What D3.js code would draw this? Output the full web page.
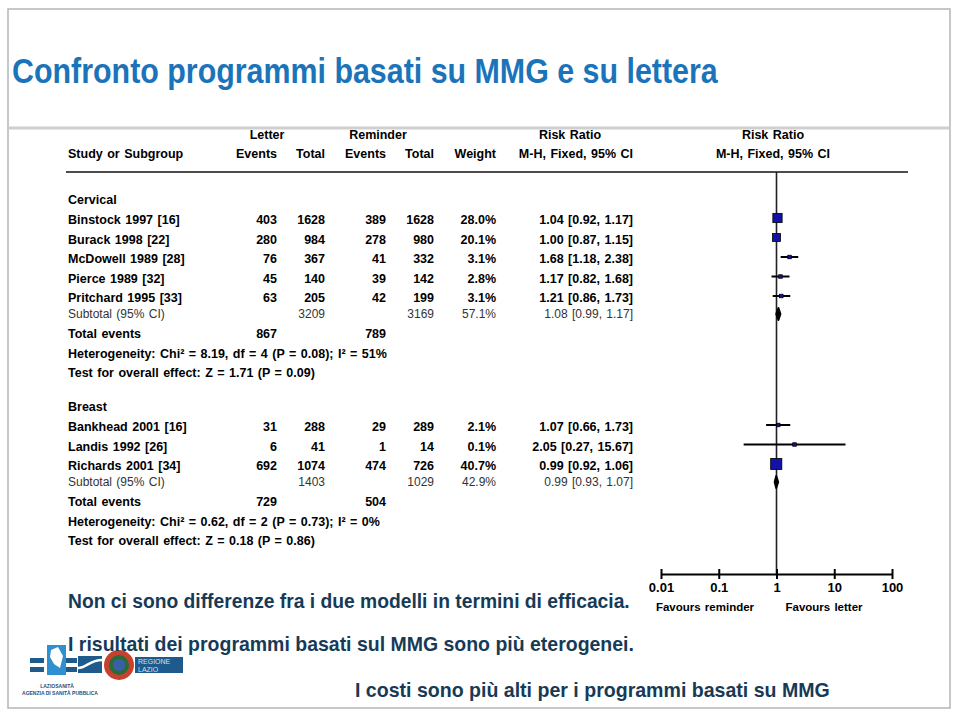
<!DOCTYPE html>
<html>
<head>
<meta charset="utf-8">
<script src="https://cdn.jsdelivr.net/npm/d3@7"></script>
<style>
  body { margin: 0; background: #fff; }
  text { font-family: "Liberation Sans", Arial, sans-serif; }
</style>
</head>
<body>
<div id="chart"></div>
<script>
// data
const groupNames = ["Cervical", "Breast"];
const studyNames = ["Binstock 1997 [16]", "Burack 1998 [22]", "McDowell 1989 [28]", "Pierce 1989 [32]", "Pritchard 1995 [33]",
                    "Bankhead 2001 [16]", "Landis 1992 [26]", "Richards 2001 [34]"];
const studyGroup = [0, 0, 0, 0, 0, 1, 1, 1];
const letterEvents = [403, 280, 76, 45, 63, 31, 6, 692];
const letterTotal = [1628, 984, 367, 140, 205, 288, 41, 1074];
const reminderEvents = [389, 278, 41, 39, 42, 29, 1, 474];
const reminderTotal = [1628, 980, 332, 142, 199, 289, 14, 726];
const weights = [28.0, 20.1, 3.1, 2.8, 3.1, 2.1, 0.1, 40.7];
const rr = [1.04, 1.00, 1.68, 1.17, 1.21, 1.07, 2.05, 0.99];
const rrLow = [0.92, 0.87, 1.18, 0.82, 0.86, 0.66, 0.27, 0.92];
const rrHigh = [1.17, 1.15, 2.38, 1.68, 1.73, 1.73, 15.67, 1.06];

const subLetterTotal = [3209, 1403];
const subReminderTotal = [3169, 1029];
const subWeight = [57.1, 42.9];
const subRR = [1.08, 0.99];
const subLow = [0.99, 0.93];
const subHigh = [1.17, 1.07];
const totalLetterEvents = [867, 729];
const totalReminderEvents = [789, 504];
const heterogeneity = ["Heterogeneity: Chi² = 8.19, df = 4 (P = 0.08); I² = 51%",
                       "Heterogeneity: Chi² = 0.62, df = 2 (P = 0.73); I² = 0%"];
const overallEffect = ["Test for overall effect: Z = 1.71 (P = 0.09)",
                       "Test for overall effect: Z = 0.18 (P = 0.86)"];

const axisTicks = [0.01, 0.1, 1, 10, 100];
const favours = ["Favours reminder", "Favours letter"];

const title = "Confronto programmi basati su MMG e su lettera";
const notes = ["Non ci sono differenze fra i due modelli in termini di efficacia.",
               "I risultati dei programmi basati sul MMG sono più eterogenei.",
               "I costi sono più alti per i programmi basati su MMG"];

const W = 960, H = 720;
const svg = d3.select("#chart").append("svg").attr("width", W).attr("height", H);

// condensed text: draw at full size, then squeeze horizontally to the wanted width
function squeezed(parent, xx, yy, s, width, size, color) {
  const t = parent.append("g").append("text").text(s)
    .style("font-size", size + "px").style("font-weight", "bold").attr("fill", color);
  const k = width / t.node().getComputedTextLength();
  t.node().parentNode.setAttribute("transform", `translate(${xx},${yy}) scale(${k},1)`);
  return t;
}

// slide frame
svg.append("rect").attr("x", 8).attr("y", 9).attr("width", 942).attr("height", 699)
  .attr("fill", "#fff").attr("stroke", "#b5b5b5").attr("stroke-width", 1.5);
svg.append("line").attr("x1", 9).attr("x2", 949).attr("y1", 128).attr("y2", 128)
  .attr("stroke", "#cfcfcf").attr("stroke-width", 3);

squeezed(svg, 12, 83, title, 706, 35, "#1b74b9");

// table columns (right edges)
const col = { name: 68, lEv: 277, lTot: 325, rEv: 386, rTot: 434, wt: 496, ci: 633 };

const x = d3.scaleLog().domain([0.01, 100]).range([661, 892]);

const g = svg.append("g");
function txt(xx, yy, s, anchor, bold, size, color) {
  return g.append("text").attr("x", xx).attr("y", yy).text(s)
    .attr("text-anchor", anchor || "start")
    .style("font-weight", bold === false ? "normal" : "bold")
    .style("font-size", (size || 12.5) + "px")
    .style("word-spacing", "1px")
    .attr("fill", color || "#000");
}
const fmt2 = d3.format(".2f");
const ciText = (m, l, h) => `${fmt2(m)} [${fmt2(l)}, ${fmt2(h)}]`;

// header
txt(267, 139, "Letter", "middle");
txt(378, 139, "Reminder", "middle");
txt(570, 139, "Risk Ratio", "middle");
txt(773, 139, "Risk Ratio", "middle");
txt(col.name, 158, "Study or Subgroup");
txt(col.lEv, 158, "Events", "end");
txt(col.lTot, 158, "Total", "end");
txt(col.rEv, 158, "Events", "end");
txt(col.rTot, 158, "Total", "end");
txt(col.wt, 158, "Weight", "end");
txt(col.ci, 158, "M-H, Fixed, 95% CI", "end");
txt(773, 158, "M-H, Fixed, 95% CI", "middle");

g.append("line").attr("x1", 66).attr("x2", 908).attr("y1", 172).attr("y2", 172)
  .attr("stroke", "#111").attr("stroke-width", 1.3);

// null line
g.append("line").attr("x1", x(1)).attr("x2", x(1)).attr("y1", 172).attr("y2", 574)
  .attr("stroke", "#222").attr("stroke-width", 1.6);

const groupTop = [200, 407];
groupNames.forEach((gName, gi) => {
  let y = groupTop[gi];
  txt(col.name, y + 4, gName);
  const idx = studyGroup.map((v, i) => v === gi ? i : -1).filter(i => i >= 0);
  y += 20;
  idx.forEach((i, k) => {
    const yy = y + k * 19.5;
    txt(col.name, yy + 4, studyNames[i]);
    txt(col.lEv, yy + 4, letterEvents[i], "end");
    txt(col.lTot, yy + 4, letterTotal[i], "end");
    txt(col.rEv, yy + 4, reminderEvents[i], "end");
    txt(col.rTot, yy + 4, reminderTotal[i], "end");
    txt(col.wt, yy + 4, weights[i].toFixed(1) + "%", "end");
    txt(col.ci, yy + 4, ciText(rr[i], rrLow[i], rrHigh[i]), "end");

    const my = yy - 2;
    g.append("line").attr("x1", x(rrLow[i])).attr("x2", x(rrHigh[i]))
      .attr("y1", my).attr("y2", my).attr("stroke", "#000").attr("stroke-width", 2);
    const s = Math.max(3.5, 1.75 * Math.sqrt(weights[i]));
    g.append("rect").attr("x", x(rr[i]) - s / 2).attr("y", my - s / 2)
      .attr("width", s).attr("height", s)
      .attr("fill", "#1212a8").attr("stroke", "#000").attr("stroke-width", 0.8);
  });
  let ys = y + (idx.length - 1) * 19.5 + 16;
  const c = "#333";
  txt(col.name, ys + 4, "Subtotal (95% CI)", "start", false, 12, c);
  txt(col.lTot, ys + 4, subLetterTotal[gi], "end", false, 12, c);
  txt(col.rTot, ys + 4, subReminderTotal[gi], "end", false, 12, c);
  txt(col.wt, ys + 4, subWeight[gi].toFixed(1) + "%", "end", false, 12, c);
  txt(col.ci, ys + 4, ciText(subRR[gi], subLow[gi], subHigh[gi]), "end", false, 12, c);
  g.append("polygon")
    .attr("points", [[x(subLow[gi]), ys], [x(subRR[gi]), ys - 6], [x(subHigh[gi]), ys], [x(subRR[gi]), ys + 6]].join(" "))
    .attr("fill", "#000").attr("stroke", "#000").attr("stroke-width", 2).attr("stroke-linejoin", "round");

  ys += 20;
  txt(col.name, ys + 4, "Total events");
  txt(col.lEv, ys + 4, totalLetterEvents[gi], "end");
  txt(col.rEv, ys + 4, totalReminderEvents[gi], "end");
  ys += 19.5;
  txt(col.name, ys + 4, heterogeneity[gi]);
  ys += 19.5;
  txt(col.name, ys + 4, overallEffect[gi]);
});

// log axis
const ax = svg.append("g").attr("transform", "translate(0,574)")
  .call(d3.axisBottom(x).tickValues(axisTicks).tickFormat(d => String(d)).tickSizeInner(5).tickSizeOuter(0).tickPadding(4));
ax.select(".domain").attr("stroke", "#000").attr("stroke-width", 2.2);
ax.selectAll(".tick line").attr("y1", -5).attr("y2", 5).attr("stroke", "#000").attr("stroke-width", 2);
ax.selectAll(".tick text").style("font-family", "'Liberation Sans', Arial, sans-serif")
  .style("font-size", "13px").style("font-weight", "bold").attr("fill", "#000");

txt(705, 611, favours[0], "middle", true, 11.5);
txt(824, 611, favours[1], "middle", true, 11.5);

// logos (decorative, rough)
const logo = svg.append("g");
logo.append("rect").attr("x", 30).attr("y", 658).attr("width", 14).attr("height", 5).attr("fill", "#1e5a8c");
logo.append("rect").attr("x", 30).attr("y", 667).attr("width", 14).attr("height", 5).attr("fill", "#1e5a8c");
logo.append("rect").attr("x", 47).attr("y", 645).attr("width", 19).attr("height", 30).attr("fill", "#2f8fd0");
logo.append("path").attr("d", "M51,650 L58,647 L63,656 L60,668 L54,664 L50,657Z").attr("fill", "#fff");
logo.append("rect").attr("x", 66).attr("y", 658).attr("width", 11).attr("height", 5).attr("fill", "#1e5a8c");
logo.append("rect").attr("x", 66).attr("y", 667).attr("width", 11).attr("height", 5).attr("fill", "#1e5a8c");
logo.append("rect").attr("x", 78).attr("y", 656).attr("width", 24).attr("height", 17).attr("fill", "#1e5a8c");
logo.append("path").attr("d", "M78,668 C86,668 90,660 102,660").attr("stroke", "#fff").attr("stroke-width", 2.5).attr("fill", "none");
logo.append("circle").attr("cx", 119).attr("cy", 665).attr("r", 15).attr("fill", "#c8402e");
logo.append("circle").attr("cx", 119).attr("cy", 665).attr("r", 10).attr("fill", "#2a6b3a");
logo.append("circle").attr("cx", 119).attr("cy", 665).attr("r", 6).attr("fill", "#3a5fa8");
logo.append("rect").attr("x", 135).attr("y", 657).attr("width", 48).attr("height", 16).attr("fill", "#1e5a8c");
logo.append("text").attr("x", 138).attr("y", 664).text("REGIONE").style("font-size", "7px").attr("fill", "#cfe0f0");
logo.append("text").attr("x", 138).attr("y", 672).text("LAZIO").style("font-size", "7px").attr("fill", "#cfe0f0");
logo.append("text").attr("x", 57).attr("y", 688).text("LAZIOSANITÀ").attr("text-anchor", "middle")
  .style("font-size", "5px").style("font-weight", "bold").attr("fill", "#1e4f7c");
logo.append("text").attr("x", 60).attr("y", 695).text("AGENZIA DI SANITÀ PUBBLICA").attr("text-anchor", "middle")
  .style("font-size", "5px").style("font-weight", "bold").attr("fill", "#1e4f7c");

// notes
const noteX = [68, 68, 355], noteY = [608, 651, 697], noteLen = [562, 566, 475];
notes.forEach((s, i) => squeezed(svg, noteX[i], noteY[i], s, noteLen[i], 21, "#173a56"));
</script>
</body>
</html>
